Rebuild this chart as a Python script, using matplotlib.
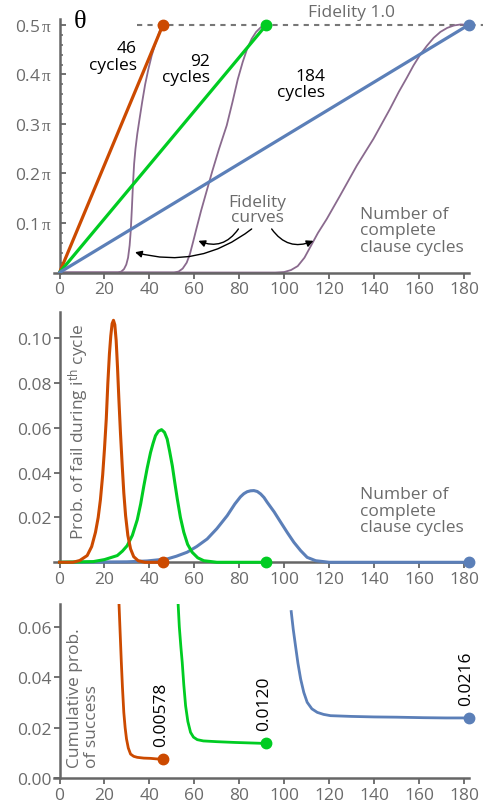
import matplotlib.pyplot as plt
import numpy as np

plt.rcParams['font.family'] = ['Open Sans', 'DejaVu Sans']
plt.rcParams['mathtext.fontset'] = 'custom'
plt.rcParams['mathtext.rm'] = 'Liberation Serif'
plt.rcParams['mathtext.it'] = 'Liberation Serif'
plt.rcParams['mathtext.sf'] = 'Open Sans'

# colours
c_or = '#cc4a00'
c_gr = '#00cc22'
c_bl = '#5b7fb8'
c_pu = '#8a6a8e'
c_txt = '#6b6b6b'
c_ax = '#666666'
fs = 12.5

# ---- panel 1: theta vs cycles (y in units of pi) ----
cycles_end = [46, 92, 182]
theta_end = 0.5

fidA_x = [0, 26, 27.5, 28.7, 29.7, 30.5, 31.2, 31.7, 32.2, 32.7, 33.2, 33.8, 34.6, 35.6, 36.8, 38.1, 39.5,
          41, 42.5, 44, 45, 46]
fidA_y = [0, 0, 0.002, 0.007, 0.016, 0.03, 0.055, 0.085, 0.13, 0.18, 0.22, 0.25, 0.28, 0.31, 0.345, 0.38,
          0.41, 0.438, 0.46, 0.48, 0.492, 0.5]
fidB_x = [0, 51, 53, 54.8, 56.6, 58, 59.5, 61, 63, 65.5, 68, 71, 74.4, 77, 79.3, 81.5, 83.5, 85.5, 87.5,
          89.5, 92]
fidB_y = [0, 0, 0.002, 0.008, 0.02, 0.037, 0.063, 0.09, 0.125, 0.165, 0.205, 0.25, 0.297, 0.345, 0.39,
          0.425, 0.452, 0.472, 0.486, 0.495, 0.5]
fidC_x = [0, 96, 100, 103, 106, 109, 112, 115, 118.9, 124.8, 132.3, 139.7, 147, 151, 154.5, 157.5, 160.5,
          163.5, 166.5, 169.5, 172.5, 175.5, 178.5, 182]
fidC_y = [0, 0, 0.001, 0.005, 0.013, 0.03, 0.055, 0.08, 0.108, 0.155, 0.216, 0.27, 0.33, 0.365, 0.393,
          0.418, 0.44, 0.458, 0.474, 0.486, 0.494, 0.499, 0.501, 0.5]

# ---- panel 2: probability of fail during i-th cycle ----
pfA_x = [0, 6, 9, 12.3, 14.3, 16, 17.2, 18.2, 19.2, 20, 20.8, 21.5, 22.2, 22.8, 23.4, 24, 24.6, 25.2, 25.8,
         26.4, 27.1, 27.9, 28.6, 29.4, 30.4, 31.6, 33, 35, 38, 46]
pfA_y = [0, 0, 0.0008, 0.003, 0.007, 0.0134, 0.02, 0.028, 0.039, 0.0506, 0.064, 0.08, 0.093, 0.101, 0.1065,
         0.108, 0.106, 0.099, 0.087, 0.073, 0.058, 0.043, 0.031, 0.0208, 0.012, 0.006, 0.0025, 0.0007, 0, 0]
pfB_x = [0, 15, 20, 25.7, 28, 30.1, 32.4, 34.6, 36.1, 37.5, 39, 40.5, 41.6, 42.7, 44, 45.4, 46.7, 47.9, 49,
         50.2, 51.3, 52.4, 53.8, 55.3, 57, 59, 61.5, 64.2, 70, 92]
pfB_y = [0, 0.0003, 0.0012, 0.003, 0.005, 0.0074, 0.012, 0.019, 0.026, 0.034, 0.042, 0.049, 0.053, 0.0565,
         0.0585, 0.0592, 0.058, 0.055, 0.0495, 0.043, 0.0355, 0.0283, 0.02, 0.0134, 0.008, 0.0045, 0.002,
         0.0007, 0, 0]
pfC_x = [0, 30, 39, 47.9, 52, 56.8, 61, 65.7, 70, 74.6, 78, 80.5, 82, 83.5, 85, 86.5, 88, 89.5, 91, 92.4,
         95.5, 98.4, 101.4, 104.3, 107.3, 110.2, 114, 120, 182]
pfC_y = [0, 0.0002, 0.0006, 0.0015, 0.0027, 0.0045, 0.007, 0.0104, 0.015, 0.0208, 0.026, 0.0292, 0.0306,
         0.0315, 0.0319, 0.032, 0.0316, 0.0305, 0.0289, 0.0268, 0.0225, 0.0179, 0.0132, 0.0089, 0.0052,
         0.0022, 0.0007, 0, 0]

# ---- panel 3: cumulative probability of success ----
csA_x = [26.2, 27, 27.5, 28, 28.6, 29.2, 29.8, 30.6, 31.6, 33, 34.6, 37.5, 40.5, 43, 46]
csA_y = [0.075, 0.057, 0.0459, 0.036, 0.0261, 0.02, 0.0156, 0.012, 0.0096, 0.0087, 0.0083, 0.008, 0.0079,
         0.0077, 0.0076]
csB_x = [52.6, 53.3, 54, 54.6, 55.3, 56.1, 57.1, 58.3, 59.6, 61.3, 64, 70, 78, 85, 92]
csB_y = [0.072, 0.06, 0.052, 0.0459, 0.037, 0.0287, 0.0225, 0.0182, 0.0163, 0.0153, 0.0148, 0.0145, 0.0142,
         0.014, 0.0138]
csC_x = [103.1, 104, 105, 106.1, 107.3, 108.7, 110.2, 112.3, 114.7, 117.5, 120.6, 130, 140, 150, 162, 172, 182]
csC_y = [0.066, 0.059, 0.0525, 0.0455, 0.0393, 0.034, 0.0301, 0.0275, 0.0261, 0.0253, 0.0248, 0.0245,
         0.0243, 0.0242, 0.024, 0.0239, 0.0239]
cs_labels = ['0.00578', '0.0120', '0.0216']

xticks = [0, 20, 40, 60, 80, 100, 120, 140, 160, 180]
colors = [c_or, c_gr, c_bl]

fig = plt.figure(figsize=(4.84, 8.04), dpi=100)
ax1 = fig.add_axes([0.1114, 0.6598, 0.8566, 0.3153])
ax2 = fig.add_axes([0.1114, 0.2994, 0.8566, 0.311])
ax3 = fig.add_axes([0.1114, 0.0307, 0.8566, 0.2168])

for ax in (ax1, ax2, ax3):
    ax.set_xlim(-2.5, 182)
    ax.spines['top'].set_visible(False)
    ax.spines['right'].set_visible(False)
    ax.spines['left'].set_position(('data', 0))
    for s in ('left', 'bottom'):
        ax.spines[s].set_color(c_ax)
        ax.spines[s].set_linewidth(1.8)
    ax.set_xticks(xticks)
    ax.tick_params(labelsize=fs, labelcolor=c_txt, color=c_ax, width=1.3, length=4, pad=2)

# panel 1
ax1.set_ylim(0, 0.512)
ax1.set_yticks([0.1, 0.2, 0.3, 0.4, 0.5])
ax1.set_yticklabels([f'{v:.1f}' + r'$\,\mathrm{π}$' for v in [0.1, 0.2, 0.3, 0.4, 0.5]])
ax1.set_yticks(np.arange(0.02, 0.51, 0.02), minor=True)
ax1.tick_params(axis='y', direction='in', pad=5)
ax1.tick_params(axis='y', which='minor', direction='in', length=2.5, width=1.1, color=c_ax)

for fx, fy in [(fidA_x, fidA_y), (fidB_x, fidB_y), (fidC_x, fidC_y)]:
    ax1.plot(fx, fy, color=c_pu, lw=1.3, clip_on=False, zorder=2, solid_joinstyle='round')
for xe, c in zip(cycles_end, colors):
    ax1.plot([0, xe], [0, theta_end], color=c, lw=2.3, zorder=3, solid_capstyle='round')
    ax1.plot(xe, theta_end, 'o', color=c, ms=7.5, clip_on=False, zorder=4)
ax1.plot([34.5, 188.5], [0.5, 0.5], ls=(0, (2.5, 2.5)), color='#777777', lw=1.5, clip_on=False, zorder=1)
ax1.text(110.6, 0.527, 'Fidelity 1.0', color=c_txt, fontsize=fs, va='center', ha='left', clip_on=False)
ax1.text(9.1, 0.509, 'θ', family='Liberation Serif', fontsize=19, va='center', ha='center')
ax1.text(34.5, 0.436, '46\ncycles', fontsize=fs, ha='right', va='center', multialignment='right', linespacing=1.05)
ax1.text(67, 0.411, '92\ncycles', fontsize=fs, ha='right', va='center', multialignment='right', linespacing=1.05)
ax1.text(118.2, 0.381, '184\ncycles', fontsize=fs, ha='right', va='center', multialignment='right', linespacing=1.05)
ax1.text(88, 0.127, 'Fidelity\ncurves', color=c_txt, fontsize=fs, ha='center', va='center', linespacing=0.95)
ax1.text(133.9, 0.085, 'Number of\ncomplete\nclause cycles', color=c_txt, fontsize=fs, ha='left', va='center',
         linespacing=1.05)
arrow = dict(arrowstyle='-|>', color='black', lw=1.0, mutation_scale=10, shrinkA=0, shrinkB=0)
ax1.annotate('', xy=(61.8, 0.064), xytext=(79.6, 0.088),
             arrowprops=dict(arrow, connectionstyle='arc3,rad=-0.4'))
ax1.annotate('', xy=(33.6, 0.041), xytext=(85.5, 0.088),
             arrowprops=dict(arrow, connectionstyle='arc3,rad=-0.25'))
ax1.annotate('', xy=(113, 0.064), xytext=(94.4, 0.088),
             arrowprops=dict(arrow, connectionstyle='arc3,rad=0.4'))

# panel 2
ax2.set_ylim(0, 0.1116)
ax2.set_yticks([0.02, 0.04, 0.06, 0.08, 0.10])
ax2.set_yticklabels(['0.02', '0.04', '0.06', '0.08', '0.10'])
for px, py, c in [(pfC_x, pfC_y, c_bl), (pfB_x, pfB_y, c_gr), (pfA_x, pfA_y, c_or)]:
    ax2.plot(px, py, color=c, lw=2.2, clip_on=False, zorder=3, solid_joinstyle='round')
for xe, c in zip(cycles_end, colors):
    ax2.plot(xe, 0, 'o', color=c, ms=7.5, clip_on=False, zorder=4)
ax2.text(3.1, 0.0104, 'Prob. of fail during i$^{\\mathsf{th}}$ cycle', color=c_txt, fontsize=fs,
         rotation=90, rotation_mode='anchor', ha='left', va='top')
ax2.text(133.9, 0.0231, 'Number of\ncomplete\nclause cycles', color=c_txt, fontsize=fs, ha='left', va='center',
         linespacing=1.05)

# panel 3
ax3.set_ylim(0, 0.069)
ax3.set_yticks([0, 0.02, 0.04, 0.06])
ax3.set_yticklabels(['0.00', '0.02', '0.04', '0.06'])
for cx, cy, c in [(csA_x, csA_y, c_or), (csB_x, csB_y, c_gr), (csC_x, csC_y, c_bl)]:
    ax3.plot(cx, cy, color=c, lw=2.0, zorder=3, solid_joinstyle='round')
    ax3.plot(cx[-1], cy[-1], 'o', color=c, ms=7.5, clip_on=False, zorder=4)
for cx, cy, lab in [(csA_x, csA_y, cs_labels[0]), (csB_x, csB_y, cs_labels[1]), (csC_x, csC_y, cs_labels[2])]:
    ax3.text(cx[-1] - 1, cy[-1] + 0.0052, lab, fontsize=fs, rotation=90, rotation_mode='anchor',
             ha='left', va='center')
ax3.text(3.1, 0.0045, 'Cumulative prob.\nof success', color=c_txt, fontsize=fs, rotation=90,
         rotation_mode='anchor', ha='left', va='top', linespacing=1.1)

fig.savefig('out.png', dpi=100)
